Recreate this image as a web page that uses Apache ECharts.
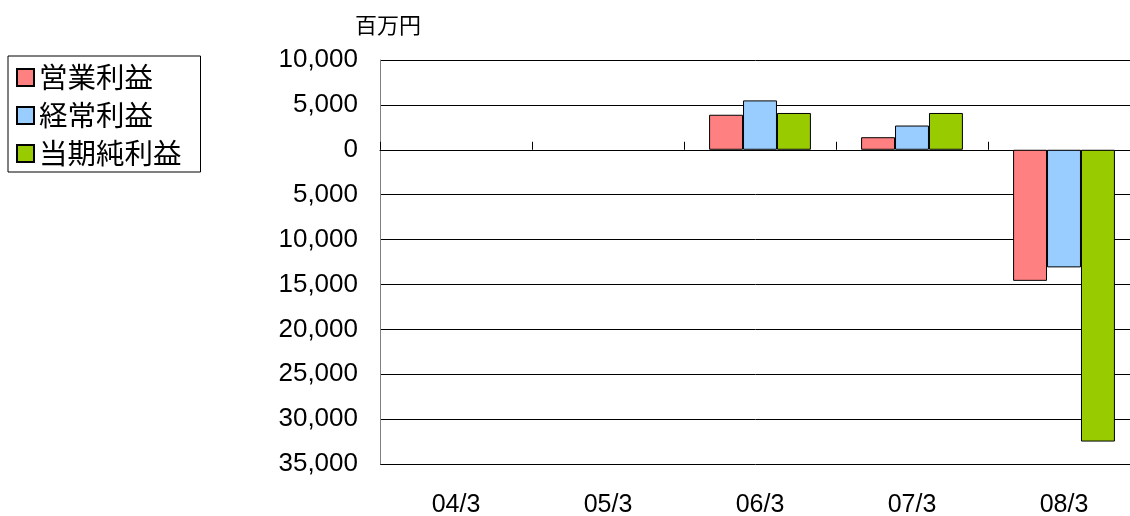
<!DOCTYPE html>
<html>
<head>
<meta charset="utf-8">
<script src="https://cdn.jsdelivr.net/npm/echarts@6/dist/echarts.min.js"></script>
<style>
html,body{margin:0;padding:0;background:#fff;}
#chart{width:1130px;height:516px;}
</style>
</head>
<body>
<div id="chart"></div>
<script>
const categories = ['04/3', '05/3', '06/3', '07/3', '08/3'];
const operatingProfit = [null, null, 3900, 1400, -14600];
const ordinaryProfit = [null, null, 5500, 2700, -13100];
const netProfit = [null, null, 4100, 4100, -32500];
const seriesNames = ['営業利益', '経常利益', '当期純利益'];
const seriesColors = ['#FF8080', '#99CCFF', '#99CC00'];
const unitLabel = '百万円';

const chart = echarts.init(document.getElementById('chart'));
const numFont = 'Liberation Sans, Arial, sans-serif';
const cjkFont = '"Noto Sans CJK JP", sans-serif';

function fmt(v) {
  return Math.abs(v).toString().replace(/\B(?=(\d{3})+(?!\d))/g, ',');
}

const seriesData = [operatingProfit, ordinaryProfit, netProfit];

chart.setOption({
  animation: false,
  backgroundColor: '#fff',
  grid: { left: 380, top: 60, bottom: 52, right: -10, containLabel: false, outerBoundsMode: 'none' },
  legend: {
    orient: 'vertical',
    left: 8,
    top: 56,
    padding: [6, 19, 3, 8],
    borderColor: '#000',
    borderWidth: 1,
    itemWidth: 17,
    itemHeight: 17,
    itemGap: 7,
    icon: 'rect',
    textStyle: { fontFamily: cjkFont, fontSize: 28.5, color: '#000', lineHeight: 31 },
    data: seriesNames
  },
  graphic: [{
    type: 'text',
    left: 355,
    top: 14,
    style: { text: unitLabel, font: '22px ' + cjkFont, fill: '#000' }
  }],
  xAxis: [{
    type: 'category',
    data: categories,
    position: 'bottom',
    axisLine: { show: false, onZero: false },
    axisTick: { show: false },
    axisLabel: { margin: 29, fontFamily: numFont, fontSize: 25, color: '#000' },
    splitLine: { show: false }
  }, {
    type: 'category',
    data: categories,
    position: 'top',
    axisLine: { show: true, onZero: true, lineStyle: { color: '#000', width: 1 } },
    axisTick: { show: true, inside: false, length: 8, lineStyle: { color: '#000' } },
    axisLabel: { show: false },
    splitLine: { show: false }
  }],
  yAxis: {
    type: 'value',
    min: -35000,
    max: 10000,
    interval: 5000,
    axisLine: { show: true, lineStyle: { color: '#808080', width: 1 } },
    axisTick: { show: false },
    axisLabel: { formatter: fmt, margin: 22, fontFamily: numFont, fontSize: 26, color: '#000' },
    splitLine: { show: true, lineStyle: { color: '#000', width: 1 } }
  },
  series: seriesNames.map((name, i) => ({
    name: name,
    type: 'bar',
    xAxisIndex: 0,
    data: seriesData[i],
    barGap: '0%',
    barCategoryGap: '33%',
    itemStyle: { color: seriesColors[i], borderColor: '#000', borderWidth: 1 }
  }))
});
</script>
</body>
</html>
